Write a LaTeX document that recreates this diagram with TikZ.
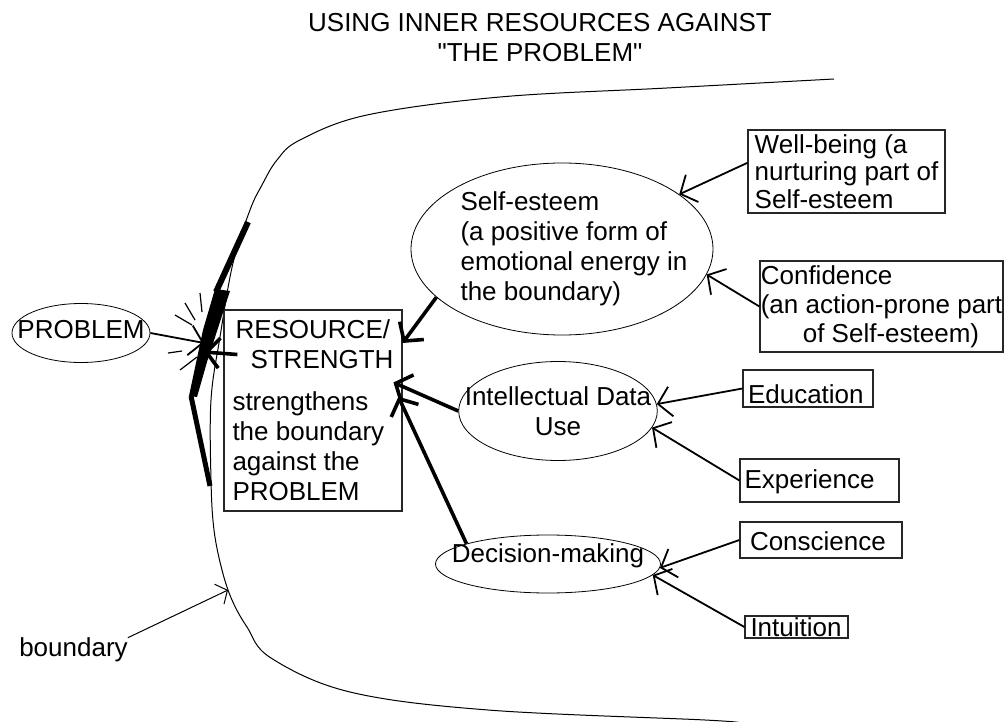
\documentclass[tikz,border=0pt]{standalone}
\usepackage{fontspec}
\setmainfont{Liberation Sans}
\usetikzlibrary{shapes.geometric,arrows.meta}

\begin{document}
\begin{tikzpicture}[x=1pt,y=-1pt,
    every node/.style={font=\fontsize{26}{30}\selectfont, inner sep=0pt},
    blob/.style={draw, ellipse, line width=0.8pt, inner ysep=0pt},
    card/.style={draw=black!85, line width=1.2pt, rectangle},
    push/.style={line width=1.8pt, -{Straight Barb[length=13pt,width=30pt]}},
    shove/.style={line width=3.6pt, -{Straight Barb[length=13pt,width=30pt]}}]
    \useasboundingbox (0,0) rectangle (1004,722);

    \node[align=center] (title) at (540,37.7) {USING INNER RESOURCES AGAINST\\\textquotedbl THE PROBLEM\textquotedbl};

    % the boundary
    \draw[line width=1pt] plot[smooth, tension=0.6] coordinates {(834,79) (667,88) (500,97) (367,115) (300,140) (277,160) (262,185) (250,210) (233,263) (220,337) (211,400) (211,480) (214,530) (222,570) (232,600) (247,627) (271,658) (350,692) (488,710) (705,720) (740,723)};

    \node[blob, minimum width=138pt, minimum height=59pt, inner xsep=-15pt, text depth=7pt] (problem) at (81,333) {PROBLEM};
    \node[card, align=left, minimum width=178pt, minimum height=201pt] (resource) at (313,410.5) {\hspace*{3pt}RESOURCE/\\\hspace*{18pt}STRENGTH\\[12pt]strengthens\\the boundary\\against the\\PROBLEM};

    \node[blob, align=left, minimum width=302pt, minimum height=172pt, inner xsep=-20pt] (selfesteem) at (562,249) {\hspace*{24pt}Self-esteem\\\hspace*{24pt}(a positive form of\\\hspace*{24pt}emotional energy in\\\hspace*{24pt}the boundary)};
    \node[blob, align=center, minimum width=198pt, minimum height=99pt, inner xsep=-23pt] (intellect) at (558,411) {Intellectual Data\\Use};
    \node[blob, minimum width=225pt, minimum height=58pt, inner xsep=-17pt, text depth=21pt] (decision) at (548,564) {Decision-making};

    \node[card, align=left, minimum width=197pt, minimum height=83pt, font=\fontsize{26}{27.5}\selectfont] (wellbeing) at (846.5,171.5) {Well-being (a\\nurturing part of\\Self-esteem};
    \node[card, align=left, minimum width=243pt, minimum height=91pt, font=\fontsize{26}{29}\selectfont] (confidence) at (881.5,306.5) {Confidence\\(an action-prone part\\\hspace*{42pt}of Self-esteem)};
    \node[card, align=left, text width=120pt, inner xsep=5pt, inner ysep=2pt, text height=31pt, text depth=2pt] (education) at (808,388.5) {Education};
    \node[card, align=left, text width=150pt, inner xsep=4.5pt, inner ysep=2pt, text height=27pt, text depth=12pt] (experience) at (819.5,480.5) {Experience};
    \node[card, align=left, text width=142pt, inner xsep=10pt, inner ysep=2pt, text height=26pt, text depth=6pt] (conscience) at (821,540) {Conscience};
    \node[card, align=left, text width=92pt, inner xsep=5.5pt, inner ysep=0pt, text height=20pt, text depth=2pt] (intuition) at (796.5,627) {Intuition};

    \node (boundarytag) at (73.5,650) {boundary};

    \coordinate (hit) at (204,343);
    \coordinate (rim) at (228,590);

    % the problem hits the boundary
    \draw[line width=1.2pt] (200,293) -- (202,312) (185,303) -- (195,320) (175,315) -- (192,325) (168,353) -- (182,351) (180,370) -- (197,357);
    \draw[line width=6pt] (248,222) -- (216,292);
    \fill (215,289) -- (230,291) -- (207,362) -- (197,397) -- (189,396) -- (203,330) -- cycle;
    \draw[line width=5pt] (191,396) -- (210,486);

    \draw[push] (problem.east) -- (hit);
    \draw[shove] ([xshift=14pt]resource.148) -- ([yshift=-9pt]hit);
    \draw[shove] (selfesteem.201) -- (resource.37);
    \draw[shove, shorten >=-10pt] (intellect.west) -- (resource.15);
    \draw[shove, shorten >=-10pt] (decision.166) -- (resource.3);

    \draw[push] (wellbeing.175) -- (selfesteem.25);
    \draw[push] (confidence.west) -- (selfesteem.-10);
    \draw[push] (education.west) -- (intellect.4);
    \draw[push] (experience.west) -- (intellect.-10);
    \draw[push] (conscience.west) -- (decision.-2);
    \draw[push] (intuition.west) -- (decision.-6);
    \draw[line width=1pt, -{Straight Barb[length=9pt,width=22pt]}] (boundarytag.north east) -- (rim);
\end{tikzpicture}
\end{document}
